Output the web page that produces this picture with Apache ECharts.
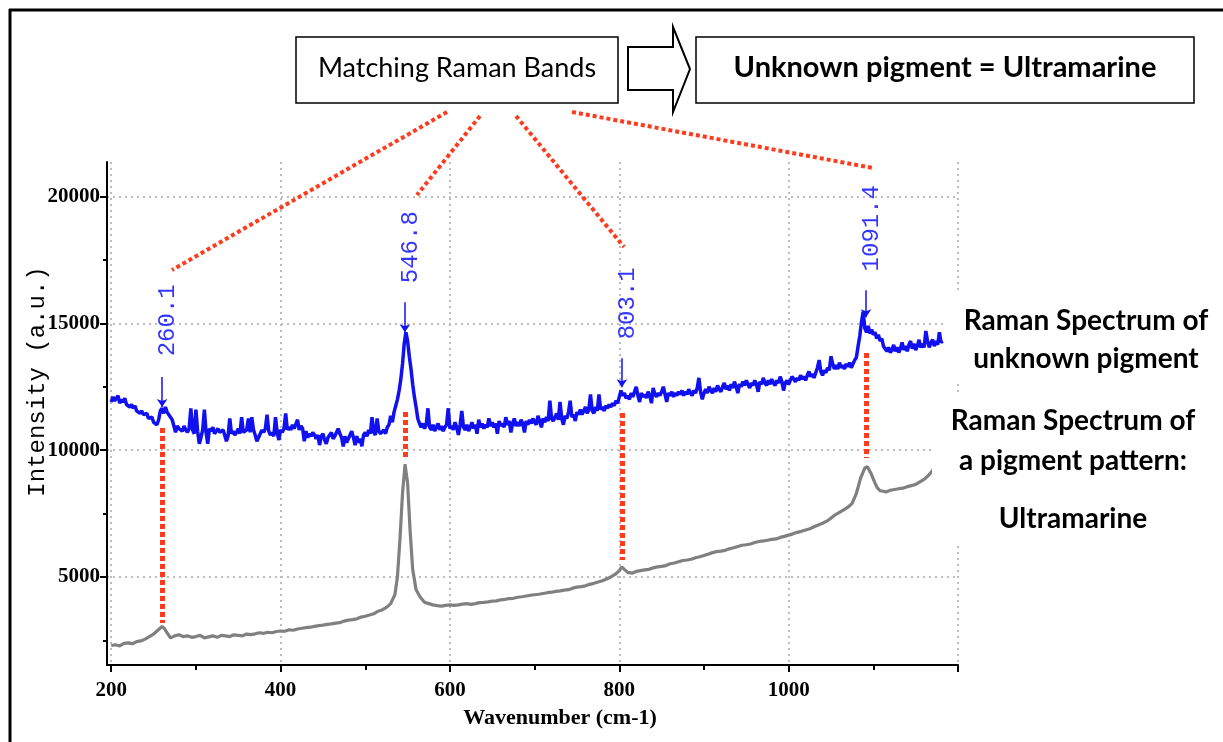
<!DOCTYPE html>
<html>
<head>
<meta charset="utf-8">
<script src="https://cdn.jsdelivr.net/npm/echarts@6/dist/echarts.min.js"></script>
<style>
html,body{margin:0;padding:0;background:#fff;}
#chart{width:1223px;height:742px;}
</style>
</head>
<body>
<div id="chart"></div>
<script>
// ---- data ----
const unknownSpectrum = [
[200,11900],[202,12100],[204,11950],[206,12050],[208,12150],[210,11850],[212,12000],[214,11900],[216,12050],[218,11800],
[220,11850],[222,11700],[224,11800],[226,11650],[228,11750],[230,11550],[232,11600],[234,11450],[236,11550],[238,11400],
[240,11350],[242,11450],[244,11250],[246,11200],[248,11300],[250,11100],[252,11050],[254,11000],[256,11200],[258,11550],
[260,11650],[262,11450],[264,11700],[266,11500],[268,11550],[270,11300],[272,11200],[274,10950],[276,10700],[278,10950],
[280,10850],[282,10900],[284,10750],[286,10950],[288,10800],[290,10700],[292,10850],[294,11650],[296,10800],[298,10650],
[300,11600],[302,10750],[304,10250],[306,10500],[308,10800],[310,11600],[312,10700],[314,10250],[316,10850],[318,10750],
[320,10900],[322,10650],[324,10750],[326,10850],[328,10700],[330,10650],[332,10800],[334,10600],[336,10350],[338,10550],
[340,11250],[342,10650],[344,10750],[346,10600],[348,10700],[350,10850],[352,10650],[354,11300],[356,10700],[358,10650],
[360,10800],[362,11250],[364,10700],[366,11300],[368,10800],[370,10600],[372,10350],[374,10500],[376,10650],[378,10800],
[380,10700],[382,10850],[384,11400],[386,10750],[388,10600],[390,10700],[392,10550],[394,11300],[396,10700],[398,10400],
[400,10800],[402,10700],[404,10850],[406,11450],[408,10800],[410,10900],[412,10800],[414,11000],[416,10850],[418,10900],
[420,11200],[422,10800],[424,10950],[426,10850],[428,10350],[430,10750],[432,10500],[434,10650],[436,10550],[438,10700],
[440,10600],[442,10450],[444,10600],[446,10200],[448,10550],[450,10650],[452,10400],[454,10250],[456,10500],[458,10600],
[460,10700],[462,10450],[464,10550],[466,10600],[468,10850],[470,10650],[472,10500],[474,10150],[476,10550],[478,10300],
[480,10450],[482,10600],[484,10750],[486,10500],[488,10200],[490,10550],[492,10300],[494,10450],[496,10150],[498,10600],
[500,10700],[502,10550],[504,10800],[506,10650],[508,11300],[510,10700],[512,10600],[514,11250],[516,10750],[518,10650],
[520,10700],[522,10800],[524,10650],[526,10900],[528,11000],[530,11350],[532,11100],[534,11500],[536,11750],[538,12000],
[540,12350],[542,12800],[544,13400],[546,14200],[548,14650],[550,14300],[552,13700],[554,13200],[556,12600],[558,12100],
[560,11700],[562,11250],[564,11050],[566,10900],[568,11050],[570,10850],[572,11000],[574,11650],[576,10900],[578,10800],
[580,11000],[582,10750],[584,10900],[586,11050],[588,10800],[590,10950],[592,10750],[594,10900],[596,11000],[598,11650],
[600,10850],[602,10950],[604,10800],[606,11100],[608,10900],[610,10600],[612,11000],[614,11550],[616,10900],[618,10800],
[620,11000],[622,10750],[624,10900],[626,11100],[628,10850],[630,11000],[632,10650],[634,11200],[636,10900],[638,11050],
[640,10850],[642,11000],[644,10900],[646,11250],[648,10950],[650,11100],[652,10900],[654,11050],[656,10650],[658,11150],
[660,10950],[662,11050],[664,10900],[666,11300],[668,11000],[670,11150],[672,10700],[674,11050],[676,11250],[678,10950],
[680,11100],[682,10950],[684,11200],[686,11050],[688,10700],[690,11150],[692,11000],[694,11200],[696,11050],[698,11250],
[700,11100],[702,11000],[704,11350],[706,11150],[708,10900],[710,11250],[712,11100],[714,11300],[716,11150],[718,11950],
[720,11250],[722,11150],[724,11300],[726,11450],[728,11200],[730,11900],[732,11250],[734,11000],[736,11350],[738,11250],
[740,11500],[742,11950],[744,11300],[746,11400],[748,11150],[750,11500],[752,11400],[754,11600],[756,11400],[758,11550],
[760,11700],[762,11450],[764,11600],[766,12200],[768,11550],[770,11450],[772,11700],[774,11550],[776,12200],[778,11600],
[780,11700],[782,11550],[784,11750],[786,11650],[788,11800],[790,11700],[792,11850],[794,11750],[796,11950],[798,11850],
[800,12100],[802,12350],[804,12150],[806,12250],[808,12050],[810,12150],[812,12000],[814,12250],[816,12100],[818,12300],
[820,12500],[822,12150],[824,11900],[826,12250],[828,12100],[830,12200],[832,12050],[834,12300],[836,12150],[838,11850],
[840,12450],[842,12200],[844,12100],[846,12250],[848,12150],[850,12300],[852,12500],[854,12200],[856,11900],[858,12250],
[860,12150],[862,12300],[864,12100],[866,12250],[868,12150],[870,12300],[872,12200],[874,12350],[876,12150],[878,12300],
[880,12200],[882,12400],[884,12250],[886,12150],[888,12350],[890,12250],[892,12450],[894,12850],[896,12300],[898,12000],
[900,12250],[902,12400],[904,12250],[906,12500],[908,12350],[910,12250],[912,12450],[914,12300],[916,12550],[918,12400],
[920,12300],[922,12500],[924,12650],[926,12400],[928,12550],[930,12350],[932,12600],[934,12450],[936,12700],[938,12500],
[940,12250],[942,12600],[944,12500],[946,12700],[948,12550],[950,12750],[952,12600],[954,12450],[956,12650],[958,12550],
[960,12750],[962,12600],[964,12300],[966,12700],[968,12600],[970,12850],[972,12650],[974,12550],[976,12750],[978,12600],
[980,12800],[982,12650],[984,12550],[986,12750],[988,12650],[990,12900],[992,12700],[994,12350],[996,12650],[998,12750],
[1000,12600],[1002,12750],[1004,12900],[1006,12800],[1008,12700],[1010,12850],[1012,12750],[1014,12950],[1016,12800],[1018,12900],
[1020,12750],[1022,12950],[1024,13100],[1026,12900],[1028,13000],[1030,12850],[1032,13050],[1034,13250],[1036,13550],[1038,13100],
[1040,12950],[1042,13150],[1044,13050],[1046,13250],[1048,13150],[1050,13700],[1052,13400],[1054,13200],[1056,13350],[1058,13200],
[1060,13450],[1062,13250],[1064,13350],[1066,13200],[1068,13400],[1070,13300],[1072,13450],[1074,13250],[1076,13400],[1078,13550],
[1080,13650],[1082,14100],[1084,14500],[1086,15050],[1088,15450],[1090,14800],[1092,14650],[1094,14900],[1096,14600],[1098,14750],
[1100,14550],[1102,14650],[1104,14400],[1106,14550],[1108,14300],[1110,14400],[1112,14100],[1114,14000],[1116,13900],[1118,14050],
[1120,13850],[1122,13950],[1124,14150],[1126,13900],[1128,14050],[1130,13850],[1132,14000],[1134,14250],[1136,13950],[1138,14100],
[1140,13900],[1142,14150],[1144,14300],[1146,14000],[1148,14200],[1150,13950],[1152,14100],[1154,14350],[1156,14050],[1158,14200],
[1160,14050],[1162,14700],[1164,14300],[1166,14050],[1168,14250],[1170,14350],[1172,14100],[1174,14300],[1176,14150],[1178,14650],
[1180,14250],[1182,14300]
];
const ultramarineSpectrum = [
[200,2300],[205,2330],[210,2280],[215,2380],[220,2400],[225,2370],[230,2450],[235,2480],[240,2550],[245,2650],
[250,2750],[255,2900],[260,3050],[263,2950],[266,2800],[270,2600],[275,2680],[280,2720],[285,2650],[290,2680],
[295,2620],[300,2650],[305,2700],[310,2600],[315,2640],[320,2680],[325,2620],[330,2700],[335,2680],[340,2650],
[345,2720],[350,2700],[355,2680],[360,2750],[365,2730],[370,2760],[375,2800],[380,2780],[385,2820],[390,2800],
[395,2850],[400,2870],[405,2860],[410,2920],[415,2900],[420,2950],[425,2980],[430,3000],[435,3020],[440,3050],
[445,3080],[450,3100],[455,3130],[460,3150],[465,3180],[470,3200],[475,3260],[480,3300],[485,3320],[490,3350],
[495,3420],[500,3450],[505,3500],[510,3550],[515,3650],[520,3700],[525,3800],[530,3950],[535,4300],[538,5000],
[541,6500],[544,8300],[547,9450],[550,8700],[553,6800],[556,5300],[560,4500],[565,4200],[570,4000],[575,3950],
[580,3900],[585,3870],[590,3850],[595,3880],[600,3900],[605,3880],[610,3900],[615,3930],[620,3950],[625,3920],
[630,3950],[635,3990],[640,4000],[645,4020],[650,4050],[655,4060],[660,4100],[665,4120],[670,4150],[675,4160],
[680,4200],[685,4220],[690,4250],[695,4280],[700,4300],[705,4320],[710,4350],[715,4380],[720,4400],[725,4430],
[730,4450],[735,4480],[740,4500],[745,4560],[750,4600],[755,4620],[760,4650],[765,4710],[770,4750],[775,4800],
[780,4850],[785,4920],[790,5000],[795,5100],[800,5250],[803,5400],[806,5300],[810,5180],[815,5150],[820,5220],
[825,5250],[830,5280],[835,5300],[840,5360],[845,5400],[850,5420],[855,5450],[860,5520],[865,5550],[870,5600],
[875,5650],[880,5670],[885,5700],[890,5760],[895,5800],[900,5850],[905,5900],[910,5960],[915,6000],[920,6020],
[925,6050],[930,6110],[935,6150],[940,6200],[945,6250],[950,6270],[955,6300],[960,6360],[965,6400],[970,6420],
[975,6450],[980,6480],[985,6500],[990,6560],[995,6600],[1000,6650],[1005,6700],[1010,6760],[1015,6800],[1020,6850],
[1025,6900],[1030,6980],[1035,7050],[1040,7120],[1045,7200],[1050,7320],[1055,7450],[1060,7550],[1065,7650],[1070,7750],
[1075,7900],[1080,8300],[1085,8900],[1090,9300],[1093,9350],[1097,9100],[1102,8700],[1105,8500],[1108,8400],[1112,8380],
[1115,8350],[1120,8420],[1125,8450],[1130,8480],[1135,8500],[1140,8560],[1145,8600],[1150,8650],[1155,8750],[1160,8850],
[1165,9000],[1170,9200],[1172,9350]
];
const peakBands = [260.1, 546.8, 803.1, 1091.4];
const peakLabels = ['260.1', '546.8', '803.1', '1091.4'];
const xMajorTicks = [200, 400, 600, 800, 1000, 1200];
const xMinorTicks = [300, 500, 700, 900, 1100];
const xTickLabels = [200, 400, 600, 800, 1000];
const yMajorTicks = [5000, 10000, 15000, 20000];
const yMinorTicks = [2500, 7500, 12500, 17500];
const yTickLabels = [5000, 10000, 15000, 20000];

// annotation placement (intensity units)
const arrowTop = [12880, 15830, 13625, 16300];
const arrowTip = [11700, 14650, 12480, 15240];
const labelCenter = [15120, 18000, 15790, 18750];
const connectorTop = [10873, 11504, 11465, 13830];
const connectorBottom = [3186, 9611, 5669, 9690];

const X_MIN = 195, X_MAX = 1200, Y_MIN = 1530, Y_MAX = 21360;
const BLUE = '#1010f0', GRAY = '#808080', RED = '#ff3b1d';
const serif = '"Liberation Serif", "Times New Roman", serif';
const mono = '"Liberation Mono", "Courier New", monospace';
const sans = 'Lato, "Liberation Sans", sans-serif';

const chart = echarts.init(document.getElementById('chart'), null, {renderer: 'canvas'});

const axisLineStyle = {color: '#000', width: 2};
const gridDots = {color: '#bdbdbd', width: 2, type: [2, 4]};
const plain = v => String(v);

const option = {
  animation: false,
  backgroundColor: '#fff',
  grid: {left: 107, top: 162, right: 265, bottom: 77, containLabel: false},
  xAxis: [{
    type: 'value', min: X_MIN, max: X_MAX, position: 'bottom',
    name: 'Wavenumber (cm-1)', nameLocation: 'middle', nameGap: 42,
    nameTextStyle: {fontFamily: serif, fontWeight: 'bold', fontSize: 22, color: '#000', padding: [0, 0, 0, 55]},
    axisLine: {show: true, lineStyle: axisLineStyle},
    axisTick: {show: true, customValues: xMajorTicks, length: 7, lineStyle: {color: '#000', width: 2}},
    axisLabel: {customValues: xTickLabels, formatter: plain, fontFamily: serif, fontWeight: 'bold', fontSize: 21, color: '#000', margin: 15},
    splitLine: {show: true, lineStyle: gridDots}
  }, {
    type: 'value', min: X_MIN, max: X_MAX, position: 'bottom',
    axisLine: {show: false},
    axisTick: {show: true, customValues: xMinorTicks, length: 5, lineStyle: {color: '#000', width: 2}},
    axisLabel: {show: false},
    splitLine: {show: false}
  }],
  yAxis: [{
    type: 'value', min: Y_MIN, max: Y_MAX, position: 'left',
    name: 'Intensity (a.u.)', nameLocation: 'middle', nameGap: 57, nameRotate: 90, nameMoveOverlap: false,
    nameTextStyle: {fontFamily: mono, fontSize: 24, color: '#000', padding: [0, 0, 0, 64]},
    axisLine: {show: true, lineStyle: axisLineStyle},
    axisTick: {show: true, customValues: yMajorTicks, length: 7, lineStyle: {color: '#000', width: 2}},
    axisLabel: {customValues: yTickLabels, formatter: plain, fontFamily: serif, fontWeight: 'bold', fontSize: 21, color: '#000', margin: 7},
    splitLine: {show: true, lineStyle: gridDots}
  }, {
    type: 'value', min: Y_MIN, max: Y_MAX, position: 'left',
    axisLine: {show: false},
    axisTick: {show: true, customValues: yMinorTicks, length: 4, lineStyle: {color: '#000', width: 2}},
    axisLabel: {show: false},
    splitLine: {show: false}
  }],
  series: [{
    name: 'Raman Spectrum of a pigment pattern: Ultramarine',
    type: 'line', xAxisIndex: 0, yAxisIndex: 0,
    data: ultramarineSpectrum, showSymbol: false, symbol: 'none',
    lineStyle: {color: GRAY, width: 3.2}, z: 3,
    markLine: {
      silent: true, symbol: ['none', 'none'], animation: false,
      label: {show: false},
      lineStyle: {color: RED, width: 5, type: [5, 3]},
      data: peakBands.map((b, i) => [{coord: [b, connectorTop[i]]}, {coord: [b, connectorBottom[i]]}])
    }
  }, {
    name: 'Raman Spectrum of unknown pigment',
    type: 'line', xAxisIndex: 0, yAxisIndex: 0,
    data: unknownSpectrum, showSymbol: false, symbol: 'none',
    lineStyle: {color: BLUE, width: 3.5}, z: 4,
    markLine: {
      silent: true, symbol: ['none', 'arrow'], symbolSize: 8, animation: false,
      label: {show: false},
      lineStyle: {color: BLUE, width: 1.5, type: 'solid'},
      data: peakBands.map((b, i) => [{coord: [b, arrowTop[i]]}, {coord: [b, arrowTip[i]]}])
    }
  }, {
    name: 'peak labels',
    type: 'scatter', xAxisIndex: 0, yAxisIndex: 0,
    symbolSize: 0, silent: true, z: 5,
    data: peakBands.map((b, i) => [b, labelCenter[i], peakLabels[i]]),
    label: {
      show: true, position: 'inside', rotate: 90, offset: [0, 6],
      formatter: p => p.data[2],
      fontFamily: mono, fontSize: 24, color: '#0000ff'
    }
  }]
};
chart.setOption(option);

// decorative annotations (boxes, connectors, captions)
const redDots = {stroke: RED, lineWidth: 4, lineDash: [4, 3]};
const boldSide = {fontFamily: sans, fontWeight: 'bold', fontSize: 28, fill: '#000', textAlign: 'center', textVerticalAlign: 'middle'};
chart.setOption({
  graphic: [
    {type: 'line', z: 100, shape: {x1: 10, y1: 9, x2: 10, y2: 742}, style: {stroke: '#000', lineWidth: 3}},
    {type: 'line', z: 100, shape: {x1: 9, y1: 10, x2: 1223, y2: 10}, style: {stroke: '#000', lineWidth: 3}},
    {type: 'rect', z: 100, shape: {x: 944, y: 292, width: 276, height: 90}, style: {fill: '#fff'}},
    {type: 'rect', z: 100, shape: {x: 932, y: 392, width: 288, height: 150}, style: {fill: '#fff'}},
    {type: 'rect', z: 101, shape: {x: 296, y: 37, width: 322, height: 66}, style: {fill: '#fff', stroke: '#000', lineWidth: 1.5}},
    {type: 'rect', z: 101, shape: {x: 696, y: 37, width: 498, height: 66}, style: {fill: '#fff', stroke: '#000', lineWidth: 1.5}},
    {type: 'polygon', z: 101, shape: {points: [[628, 47], [673, 47], [673, 27], [690, 69], [673, 112], [673, 90], [628, 90]]},
      style: {fill: '#fff', stroke: '#000', lineWidth: 2}},
    {type: 'text', z: 102, x: 457, y: 68, style: {text: 'Matching Raman Bands', fontFamily: sans, fontSize: 27, fill: '#000', textAlign: 'center', textVerticalAlign: 'middle'}},
    {type: 'text', z: 102, x: 945, y: 68, style: Object.assign({}, boldSide, {text: 'Unknown pigment = Ultramarine', fontSize: 29})},
    {type: 'line', z: 99, shape: {x1: 447, y1: 112, x2: 172, y2: 270}, style: redDots},
    {type: 'line', z: 99, shape: {x1: 480, y1: 116, x2: 417, y2: 195}, style: redDots},
    {type: 'line', z: 99, shape: {x1: 516, y1: 116, x2: 624, y2: 247}, style: redDots},
    {type: 'line', z: 99, shape: {x1: 572, y1: 112, x2: 873, y2: 168}, style: redDots},
    {type: 'text', z: 102, x: 1086, y: 321, style: Object.assign({text: 'Raman Spectrum of'}, boldSide)},
    {type: 'text', z: 102, x: 1086, y: 359, style: Object.assign({text: 'unknown pigment'}, boldSide)},
    {type: 'text', z: 102, x: 1073, y: 421, style: Object.assign({text: 'Raman Spectrum of'}, boldSide)},
    {type: 'text', z: 102, x: 1073, y: 461, style: Object.assign({text: 'a pigment pattern:'}, boldSide)},
    {type: 'text', z: 102, x: 1073, y: 519, style: Object.assign({text: 'Ultramarine'}, boldSide)}
  ]
});
</script>
</body>
</html>
